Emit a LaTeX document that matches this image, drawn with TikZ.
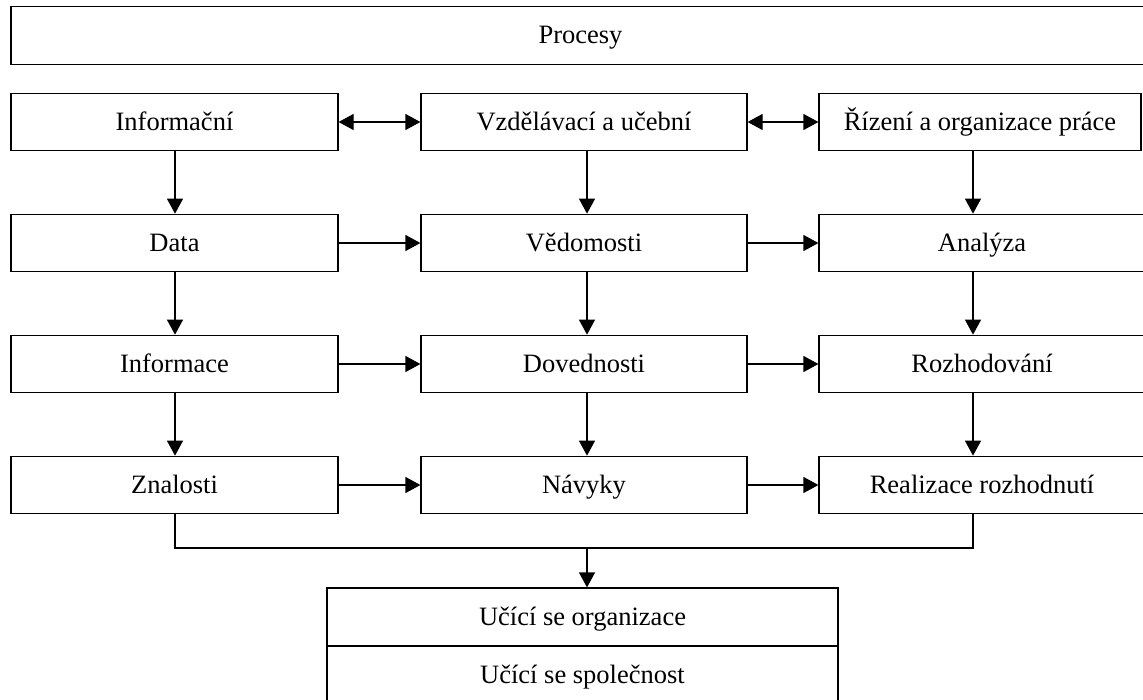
\documentclass[tikz,border=0pt]{standalone}
\usepackage{fontspec}
\setmainfont{Liberation Serif}
\usetikzlibrary{arrows.meta}
\tikzset{
  box/.style={draw, line width=1.2pt, minimum height=57.5pt, inner sep=0pt, text height=20pt, text depth=4pt, font=\fontsize{26.5}{30}\selectfont},
  arr/.style={line width=1.2pt, -{Triangle[length=15pt,width=16pt]}},
  darr/.style={line width=1.2pt, {Triangle[length=15pt,width=16pt]}-{Triangle[length=15pt,width=16pt]}},
  ln/.style={line width=1.2pt}
}
\begin{document}
\begin{tikzpicture}[x=1pt,y=-1pt]
\useasboundingbox (0,0) rectangle (1143,699);
\clip (0,0) rectangle (1143,699);
% top
\node[box, minimum width=1139pt] (proc) at (580.5,35.5) {Procesy};
% row 1
\node[box, minimum width=327pt] (l1) at (174.5,122) {Informační};
\node[box, minimum width=326pt] (m1) at (584,122) {Vzdělávací a učební};
\node[box, minimum width=322pt] (r1) at (980,122) {Řízení a organizace práce};
% row 2
\node[box, minimum width=327pt] (l2) at (174.5,243) {Data};
\node[box, minimum width=326pt] (m2) at (584,243) {Vědomosti};
\node[box, minimum width=326pt] (r2) at (982,243) {Analýza};
% row 3
\node[box, minimum width=327pt] (l3) at (174.5,364) {Informace};
\node[box, minimum width=326pt] (m3) at (584,364) {Dovednosti};
\node[box, minimum width=326pt] (r3) at (982,364) {Rozhodování};
% row 4
\node[box, minimum width=327pt] (l4) at (174.5,485) {Znalosti};
\node[box, minimum width=326pt] (m4) at (584,485) {Návyky};
\node[box, minimum width=326pt] (r4) at (982,485) {Realizace rozhodnutí};
% bottom
\node[box, minimum width=511pt, minimum height=58pt] (bo) at (582.5,617) {Učící se organizace};
\node[box, minimum width=511pt, minimum height=58pt] (bs) at (582.5,675) {Učící se společnost};
% column coordinates
\coordinate (lc) at (175,0);
\coordinate (mc) at (587,0);
\coordinate (rc) at (973,0);
\coordinate (bus) at (587,548);
% row 1 horizontal
\draw[darr] (l1.east) -- (m1.west);
\draw[darr] (m1.east) -- (r1.west);
% horizontal arrows
\draw[arr] (l2.east) -- (m2.west);
\draw[arr] (m2.east) -- (r2.west);
\draw[arr] (l3.east) -- (m3.west);
\draw[arr] (m3.east) -- (r3.west);
\draw[arr] (l4.east) -- (m4.west);
\draw[arr] (m4.east) -- (r4.west);
% vertical arrows
\draw[arr] (lc |- l1.south) -- (lc |- l2.north);
\draw[arr] (lc |- l2.south) -- (lc |- l3.north);
\draw[arr] (lc |- l3.south) -- (lc |- l4.north);
\draw[arr] (mc |- m1.south) -- (mc |- m2.north);
\draw[arr] (mc |- m2.south) -- (mc |- m3.north);
\draw[arr] (mc |- m3.south) -- (mc |- m4.north);
\draw[arr] (rc |- r1.south) -- (rc |- r2.north);
\draw[arr] (rc |- r2.south) -- (rc |- r3.north);
\draw[arr] (rc |- r3.south) -- (rc |- r4.north);
% bus
\draw[ln] (lc |- l4.south) -- (lc |- bus) -- (rc |- bus) -- (rc |- r4.south);
\draw[arr] (bus) -- (bus |- bo.north);
\end{tikzpicture}
\end{document}
